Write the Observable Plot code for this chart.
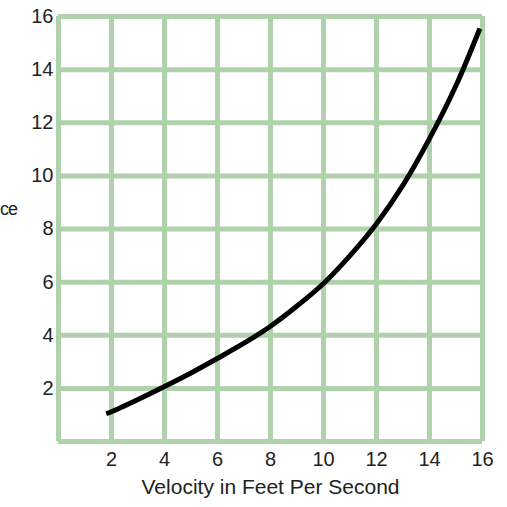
<!DOCTYPE html>
<html>
<head>
<meta charset="utf-8">
<script src="https://cdn.jsdelivr.net/npm/d3@7"></script>
<script src="https://cdn.jsdelivr.net/npm/@observablehq/plot@0.6"></script>
<style>
  html, body { margin: 0; padding: 0; background: #ffffff; }
  #chart { position: relative; width: 507px; height: 507px; overflow: hidden; }
  #chart svg text { font-size: 20px; font-family: "Liberation Sans", Arial, sans-serif; fill: #222; }
  #chart svg text.title { font-size: 21px; }
  #ylab { position: absolute; left: 0px; top: 199px; font: 18px/20px "Liberation Sans", Arial, sans-serif; color: #222; letter-spacing: -1px; }
</style>
</head>
<body>
<div id="chart"><div id="ylab">ce</div></div>
<script>
const velocity = [1.8, 2, 3, 4, 5, 6, 7, 8, 9, 10, 11, 12, 13, 14, 15, 15.9];
const value    = [1.05, 1.12, 1.58, 2.07, 2.58, 3.13, 3.7, 4.34, 5.1, 5.95, 7.0, 8.2, 9.65, 11.4, 13.4, 15.55];
const gridLines = [0, 2, 4, 6, 8, 10, 12, 14, 16];
const tickValues = [2, 4, 6, 8, 10, 12, 14, 16];
const xLabel = "Velocity in Feet Per Second";

const data = velocity.map((v, i) => ({v, y: value[i]}));
const gridColor = "#afd2ac";

const plot = Plot.plot({
  width: 507,
  height: 507,
  marginLeft: 58,
  marginRight: 25,
  marginTop: 16,
  marginBottom: 66,
  style: {fontFamily: '"Liberation Sans", Arial, sans-serif', fontSize: "20px", color: "#222", background: "transparent"},
  x: {domain: [0, 16]},
  y: {domain: [0, 16]},
  marks: [
    Plot.ruleX(gridLines, {x: d => d, stroke: gridColor, strokeWidth: 5, strokeOpacity: 1}),
    Plot.ruleY(gridLines, {y: d => d, stroke: gridColor, strokeWidth: 5, strokeOpacity: 1}),
    Plot.line(data, {x: "v", y: "y", stroke: "#000", strokeWidth: 5, curve: "catmull-rom", strokeLinecap: "butt"}),
    Plot.axisX({ticks: tickValues, tickSize: 0, tickPadding: 10, label: null}),
    Plot.axisY({ticks: tickValues, tickSize: 0, tickPadding: 5, label: null}),
    Plot.text([xLabel], {text: d => d, frameAnchor: "bottom", dy: 38, lineAnchor: "top", fill: "#222"})
  ]
});
plot.querySelectorAll("g[aria-label='text'] text").forEach(t => t.classList.add("title"));
document.getElementById("chart").prepend(plot);
</script>
</body>
</html>
